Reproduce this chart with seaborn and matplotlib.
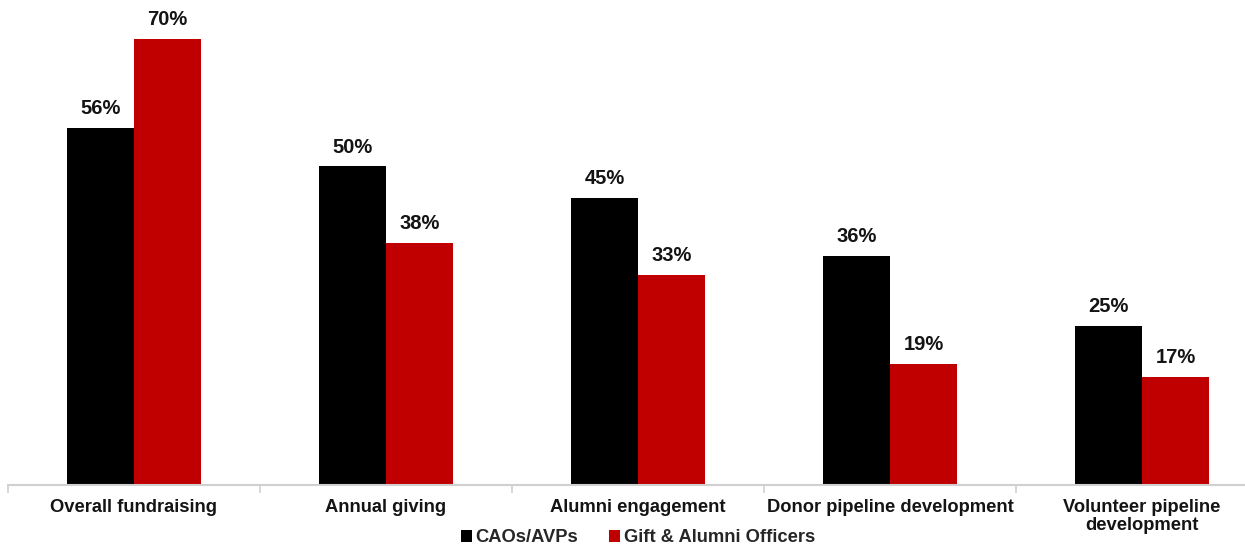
import matplotlib
matplotlib.use("Agg")
import matplotlib.pyplot as plt
import matplotlib.patches as mpatches
import seaborn as sns
import pandas as pd

categories = ["Overall fundraising", "Annual giving", "Alumni engagement",
              "Donor pipeline development", "Volunteer pipeline\ndevelopment"]
series_names = ["CAOs/AVPs", "Gift & Alumni Officers"]
cao_values = [56, 50, 45, 36, 25]
officer_values = [70, 38, 33, 19, 17]
colors = ["#000000", "#C00000"]

df = pd.DataFrame({
    "category": categories * 2,
    "group": [series_names[0]] * len(categories) + [series_names[1]] * len(categories),
    "value": cao_values + officer_values,
})

sns.set_theme(style="white")
plt.rcParams["font.family"] = ["Liberation Sans", "DejaVu Sans"]

W, H = 1245, 548
fig = plt.figure(figsize=(W / 100, H / 100), dpi=100)
# axis spans from x=8px; the right end runs past the figure edge
ax = fig.add_axes([8 / W, (H - 485) / H, 1260 / W, 478 / H])

sns.barplot(data=df, x="category", y="value", hue="group", order=categories,
            hue_order=series_names, palette=colors, width=0.53, saturation=1,
            errorbar=None, ax=ax, legend=False, linewidth=0)

ax.set_ylim(0, 75)
ax.set_xlim(-0.5, 4.5)
for container in ax.containers:
    ax.bar_label(container, fmt="%d%%", padding=7, fontsize=14.5,
                 fontweight="bold", color="#141414")

for s in ["left", "right", "top"]:
    ax.spines[s].set_visible(False)
ax.spines["bottom"].set_color("#D0D0D0")
ax.spines["bottom"].set_linewidth(1.5)
ax.set_yticks([])
ax.set_xlabel("")
ax.set_ylabel("")
ax.tick_params(axis="x", which="major", length=0, pad=10, labelsize=13.2)
for lbl in ax.get_xticklabels():
    lbl.set_fontweight("bold")
    lbl.set_color("#141414")
    lbl.set_linespacing(1.1)
ax.set_xticks([i - 0.5 for i in range(len(categories) + 1)], minor=True)
ax.tick_params(axis="x", which="minor", length=6, width=1.2, color="#D0D0D0",
               direction="out", bottom=True)

handles = [mpatches.Patch(color=c, label=n, linewidth=0) for c, n in zip(colors, series_names)]
fig.legend(handles=handles, loc="center", bbox_to_anchor=(638 / W, 1 - 538 / H),
           ncol=2, frameon=False, handlelength=0.6, handleheight=0.6,
           handletextpad=0.2, columnspacing=1.7,
           prop={"weight": "bold", "size": 13.2, "family": ["Liberation Sans"]})

fig.savefig("out.png", dpi=100)
